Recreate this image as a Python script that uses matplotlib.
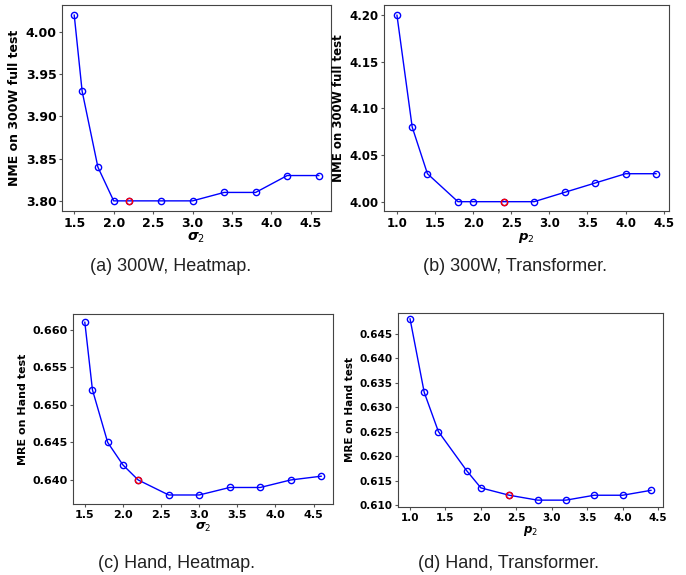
import matplotlib
matplotlib.use('Agg')
import matplotlib.pyplot as plt

# sweep values
sigma2 = [1.5, 1.6, 1.8, 2.0, 2.2, 2.6, 3.0, 3.4, 3.8, 4.2, 4.6]
p2 = [1.0, 1.2, 1.4, 1.8, 2.0, 2.4, 2.8, 3.2, 3.6, 4.0, 4.4]

nme_heat = [4.02, 3.93, 3.84, 3.80, 3.80, 3.80, 3.80, 3.81, 3.81, 3.83, 3.83]
nme_trans = [4.20, 4.08, 4.03, 4.00, 4.00, 4.00, 4.00, 4.01, 4.02, 4.03, 4.03]
mre_heat = [0.661, 0.652, 0.645, 0.642, 0.640, 0.638, 0.638, 0.639, 0.639, 0.640, 0.6405]
mre_trans = [0.648, 0.633, 0.625, 0.617, 0.6135, 0.612, 0.611, 0.611, 0.612, 0.612, 0.613]

best_heat = 2.2
best_trans = 2.4

captions = ['(a) 300W, Heatmap.', '(b) 300W, Transformer.',
            '(c) Hand, Heatmap.', '(d) Hand, Transformer.']

W, H = 686, 575
fig = plt.figure(figsize=(W / 100, H / 100), dpi=100)

def px_axes(l, t, r, b):
    return fig.add_axes([l / W, 1 - b / H, (r - l) / W, (b - t) / H])

def panel(ax, xs, ys, best, xlabel, ylabel, yticks, fmt, xticks, fs):
    ax.plot(xs, ys, 'b-', lw=1.0)
    ax.plot(xs, ys, 'o', mfc='none', mec='b', ms=4.5, mew=1.0)
    i = xs.index(best)
    ax.plot([xs[i]], [ys[i]], 'o', mfc='none', mec='red', ms=4.5, mew=1.0)
    ax.set_yticks(yticks)
    ax.set_yticklabels([fmt % v for v in yticks], fontweight='bold', fontsize=fs)
    ax.set_xticks(xticks)
    ax.set_xticklabels(['%.1f' % v for v in xticks], fontweight='bold', fontsize=fs)
    ax.tick_params(length=2, pad=2, color='#555555')
    ax.set_xlabel(xlabel, fontsize=fs + 1, labelpad=1)
    ax.set_ylabel(ylabel, fontweight='bold', fontsize=fs, labelpad=3)
    for s in ax.spines.values():
        s.set_color('#444444')

ax1 = px_axes(62, 5, 331, 211)
panel(ax1, sigma2, nme_heat, best_heat, r'$\boldsymbol{\sigma}_2$', 'NME on 300W full test',
      [3.80, 3.85, 3.90, 3.95, 4.00], '%.2f', [1.5, 2.0, 2.5, 3.0, 3.5, 4.0, 4.5], 9)
ax1.set_ylim(3.788, 4.032)

ax2 = px_axes(384, 5, 669, 211)
panel(ax2, p2, nme_trans, best_trans, r'$\boldsymbol{p}_2$', 'NME on 300W full test',
      [4.00, 4.05, 4.10, 4.15, 4.20], '%.2f', [1.0, 1.5, 2.0, 2.5, 3.0, 3.5, 4.0, 4.5], 8.5)
ax2.set_ylim(3.990, 4.211)

ax3 = px_axes(73, 314, 333, 504)
panel(ax3, sigma2, mre_heat, best_heat, r'$\boldsymbol{\sigma}_2$', 'MRE on Hand test',
      [0.640, 0.645, 0.650, 0.655, 0.660], '%.3f', [1.5, 2.0, 2.5, 3.0, 3.5, 4.0, 4.5], 8)
ax3.set_ylim(0.6368, 0.6621)

ax4 = px_axes(398, 313, 663, 507)
panel(ax4, p2, mre_trans, best_trans, r'$\boldsymbol{p}_2$', 'MRE on Hand test',
      [0.610, 0.615, 0.620, 0.625, 0.630, 0.635, 0.640, 0.645], '%.3f',
      [1.0, 1.5, 2.0, 2.5, 3.0, 3.5, 4.0, 4.5], 7.5)
ax4.set_ylim(0.6096, 0.6492)

cap_pos = [(171, 266), (515, 266), (177, 563), (508, 563)]
for (cx, cy), txt in zip(cap_pos, captions):
    fig.text(cx / W, 1 - cy / H, txt, ha='center', va='center',
             fontsize=13, family='Liberation Sans', color='#222222')

fig.savefig('out.png', dpi=100)
